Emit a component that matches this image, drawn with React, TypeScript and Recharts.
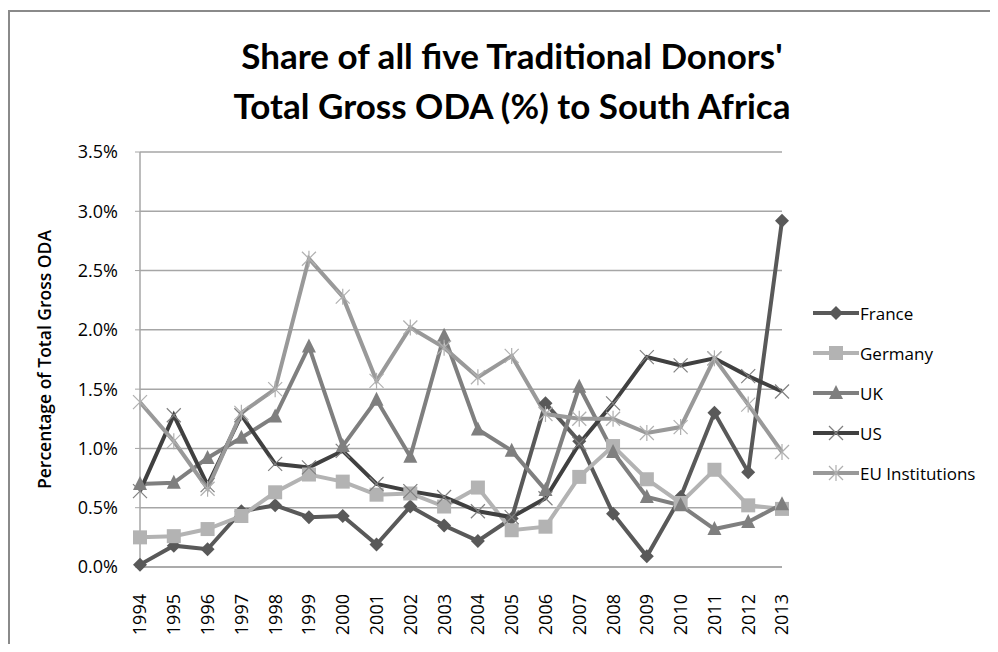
import React from 'react';
import { LineChart, Line, XAxis, YAxis, CartesianGrid, Legend } from 'recharts';

const years = ['1994','1995','1996','1997','1998','1999','2000','2001','2002','2003','2004','2005','2006','2007','2008','2009','2010','2011','2012','2013'];
const france = [0.02,0.18,0.15,0.47,0.52,0.42,0.43,0.19,0.51,0.35,0.22,0.41,1.38,1.06,0.45,0.09,0.59,1.30,0.80,2.92];
const germany = [0.25,0.26,0.32,0.43,0.63,0.78,0.72,0.61,0.62,0.51,0.67,0.31,0.34,0.76,1.02,0.74,0.54,0.82,0.52,0.49];
const uk = [0.70,0.71,0.92,1.09,1.27,1.86,1.02,1.41,0.93,1.95,1.16,0.98,0.65,1.52,0.97,0.59,0.52,0.32,0.38,0.53];
const us = [0.64,1.28,0.69,1.28,0.87,0.84,0.98,0.70,0.64,0.59,0.47,0.42,0.58,1.04,1.38,1.77,1.70,1.76,1.61,1.48];
const eu = [1.39,1.06,0.66,1.30,1.50,2.60,2.28,1.57,2.02,1.85,1.60,1.78,1.29,1.25,1.25,1.13,1.18,1.76,1.37,0.97];
const yTicks = [0, 0.5, 1, 1.5, 2, 2.5, 3, 3.5];

const data = years.map((y, i) => ({
  year: y,
  France: france[i],
  Germany: germany[i],
  UK: uk[i],
  US: us[i],
  EU: eu[i],
}));

const series = [
  { key: 'France', name: 'France', color: '#595959', shape: 'diamond' },
  { key: 'Germany', name: 'Germany', color: '#b3b3b3', shape: 'square' },
  { key: 'UK', name: 'UK', color: '#7f7f7f', shape: 'triangle' },
  { key: 'US', name: 'US', color: '#404040', shape: 'x' },
  { key: 'EU', name: 'EU Institutions', color: '#999999', shape: 'star' },
];

const FONT = '"Open Sans", "Liberation Sans", sans-serif';

function Marker({ shape, color, cx, cy }: { shape: string; color: string; cx: number; cy: number }) {
  if (cx == null || cy == null || isNaN(cx) || isNaN(cy)) return null;
  switch (shape) {
    case 'diamond':
      return <path d={`M${cx},${cy - 7} L${cx + 7},${cy} L${cx},${cy + 7} L${cx - 7},${cy} Z`} fill={color} />;
    case 'square':
      return <rect x={cx - 7} y={cy - 7} width={14} height={14} fill={color} />;
    case 'triangle':
      return <path d={`M${cx},${cy - 8} L${cx + 7},${cy + 6} L${cx - 7},${cy + 6} Z`} fill={color} />;
    case 'x':
      return (
        <g stroke="#808080" strokeWidth={1.2}>
          <line x1={cx - 7} y1={cy - 7} x2={cx + 7} y2={cy + 7} />
          <line x1={cx - 7} y1={cy + 7} x2={cx + 7} y2={cy - 7} />
        </g>
      );
    case 'star':
      return (
        <g stroke="#b0b0b0" strokeWidth={1.2}>
          <line x1={cx - 7} y1={cy - 7} x2={cx + 7} y2={cy + 7} />
          <line x1={cx - 7} y1={cy + 7} x2={cx + 7} y2={cy - 7} />
          <line x1={cx} y1={cy - 8} x2={cx} y2={cy + 8} />
        </g>
      );
    default:
      return null;
  }
}

const makeDot = (shape: string, color: string) => (p: any) => (
  <Marker key={`${shape}-${p.index}`} shape={shape} color={color} cx={p.cx} cy={p.cy} />
);

const XTick = (props: any) => {
  const { x, y, payload } = props;
  return (
    <text
      x={x}
      y={y}
      transform={`rotate(-90, ${x}, ${y})`}
      textAnchor="end"
      dy="0.36em"
      fontSize={18}
      fontFamily={FONT}
      fill="#000"
    >
      {payload.value}
    </text>
  );
};

const LegendContent = () => (
  <div style={{ fontFamily: FONT, fontSize: 17, color: '#000' }}>
    {series.map((s) => (
      <div key={s.key} style={{ display: 'flex', alignItems: 'center', height: 40 }}>
        <svg width={46} height={20} style={{ display: 'block' }}>
          <line x1={0} y1={10} x2={46} y2={10} stroke={s.color} strokeWidth={4} />
          <Marker shape={s.shape} color={s.color} cx={23} cy={10} />
        </svg>
        <span style={{ marginLeft: 1 }}>{s.name}</span>
      </div>
    ))}
  </div>
);

export default function App() {
  return (
    <div style={{ paddingTop: 2, width: 982 }}>
      <div
        style={{
          position: 'relative',
          width: 980,
          height: 632,
          borderLeft: '2px solid #8a8a8a',
          borderTop: '2px solid #8a8a8a',
          background: '#fff',
        }}
      >
        <div
          style={{
            position: 'absolute',
            left: 0,
            top: 18,
            width: 980,
            paddingLeft: 24,
            boxSizing: 'border-box',
            textAlign: 'center',
            fontFamily: 'Lato, "Liberation Sans", sans-serif',
            fontWeight: 'bold',
            fontSize: 35,
            lineHeight: '50px',
            color: '#000',
            zIndex: 2,
          }}
        >
          Share of all five Traditional Donors'
          <br />
          Total Gross ODA (%) to South Africa
        </div>
        <LineChart
          width={980}
          height={632}
          data={data}
          margin={{ top: 140, right: 208, bottom: 0, left: 0 }}
        >
          <CartesianGrid vertical={false} stroke="#a6a6a6" strokeWidth={1.5} />
          <XAxis
            dataKey="year"
            height={77}
            axisLine={{ stroke: '#a6a6a6', strokeWidth: 1.5 }}
            tickLine={false}
            interval={0}
            tick={<XTick />}
            tickMargin={21}
          />
          <YAxis
            width={130}
            domain={[0, 3.5]}
            ticks={yTicks}
            interval={0}
            tickFormatter={(v: number) => `${v.toFixed(1)}%`}
            axisLine={{ stroke: '#a6a6a6', strokeWidth: 1.5 }}
            tickLine={{ stroke: '#a6a6a6' }}
            tickSize={5}
            tickMargin={17}
            tick={{ fontSize: 18, fontFamily: FONT, fill: '#000' }}
            label={{
              value: 'Percentage of Total Gross ODA',
              angle: -90,
              position: 'insideLeft',
              offset: 35,
              style: { textAnchor: 'middle', fontSize: 17.5, fontWeight: 600, fontFamily: FONT, fill: '#000' },
            }}
          />
          <Legend
            layout="vertical"
            align="center"
            verticalAlign="middle"
            content={<LegendContent />}
            wrapperStyle={{ position: 'absolute', left: 803, top: 281, width: 170 }}
          />
          {series.map((s) => (
            <Line
              key={s.key}
              type="linear"
              dataKey={s.key}
              name={s.name}
              stroke={s.color}
              strokeWidth={4}
              dot={makeDot(s.shape, s.color)}
              activeDot={false}
              isAnimationActive={false}
            />
          ))}
        </LineChart>
      </div>
    </div>
  );
}
